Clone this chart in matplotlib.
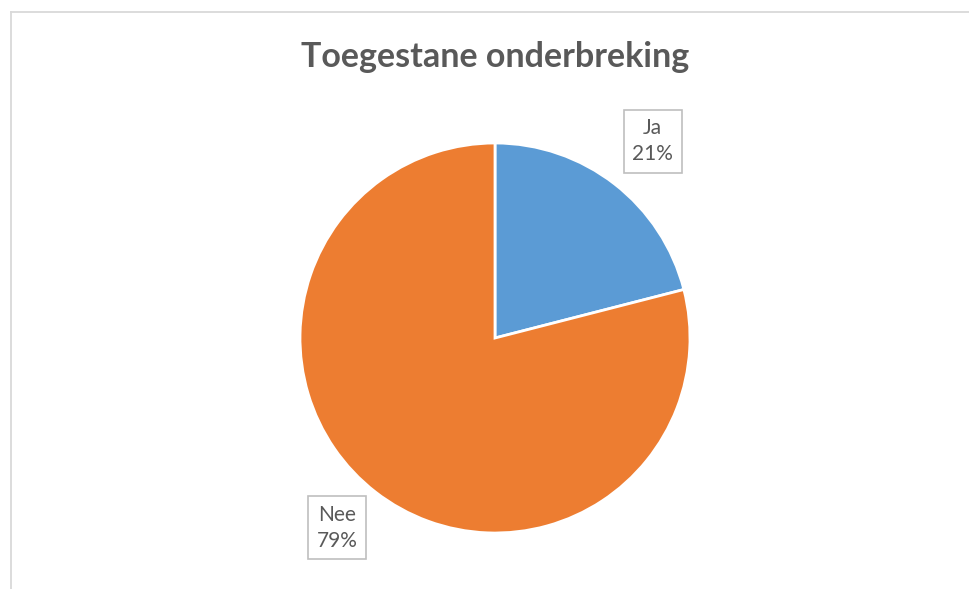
import numpy as np
import matplotlib.pyplot as plt
from matplotlib.lines import Line2D

# data
labels = ["Ja", "Nee"]
values = [21, 79]
colors = ["#5B9BD5", "#ED7D31"]
title = "Toegestane onderbreking"

W, H = 969, 589
fig = plt.figure(figsize=(W / 100, H / 100), dpi=100)
plt.rcParams['font.family'] = ['Lato', 'DejaVu Sans']

# chart border (light gray, only top and left visible)
bc = "#D9D9D9"
fig.add_artist(Line2D([11 / W, 1], [1 - 11.5 / H, 1 - 11.5 / H], color=bc, lw=1.3, transform=fig.transFigure))
fig.add_artist(Line2D([11 / W, 11 / W], [1 - 11.5 / H, 0], color=bc, lw=1.3, transform=fig.transFigure))

# pie axes: center (495, 338) px, radius 195 px
cx, cy, r = 495, 338, 195
ax = fig.add_axes([(cx - r) / W, (H - cy - r) / H, 2 * r / W, 2 * r / H])
wedges, _ = ax.pie(values, colors=colors, startangle=90, counterclock=False,
                   wedgeprops=dict(edgecolor="white", linewidth=2))
ax.set_xlim(-1, 1)
ax.set_ylim(-1, 1)
ax.axis("off")

total = sum(values)
for w, lab, v in zip(wedges, labels, values):
    ang = np.deg2rad((w.theta1 + w.theta2) / 2)
    ax.text(1.32 * np.cos(ang), 1.255 * np.sin(ang) + 0.018,
            "%s\n%d%%" % (lab, round(100 * v / total)),
            ha="center", va="center", fontsize=15, color="#595959", linespacing=1.4,
            bbox=dict(boxstyle="square,pad=0.4", fc="white", ec="#BFBFBF", lw=1.2),
            clip_on=False)

fig.text(cx / W, 1 - 57 / H, title, ha="center", va="center",
         fontsize=24.5, fontweight="bold", color="#595959")

fig.savefig("out.png", dpi=100)
